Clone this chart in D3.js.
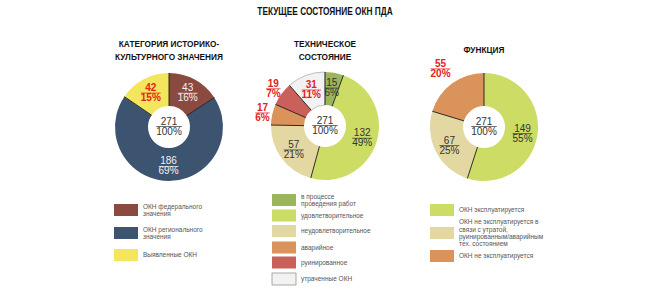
<!DOCTYPE html>
<html lang="ru">
<head>
<meta charset="UTF-8">
<title>Текущее состояние ОКН ПДА</title>
<style>
  body { margin: 0; background: #fff; }
  svg text { font-family: "Liberation Sans Narrow", "Arial Narrow", "Liberation Sans", sans-serif; }
  .title { font-weight: bold; font-size: 10px; fill: #111; }
  .ctitle { font-weight: bold; font-size: 9.5px; fill: #111; }
  .val { font-size: 10px; }
  .leg { font-size: 6.5px; fill: #555; }
</style>
</head>
<body>
<div id="chart"></div>
<script src="https://cdnjs.cloudflare.com/ajax/libs/d3/7.8.5/d3.min.js"></script>
<script>
// --- data ---
const total = 271;

const catLabels = ["ОКН федерального значения", "ОКН регионального значения", "Выявленные ОКН"];
const catValues = [43, 186, 42];
const catPercents = ["16%", "69%", "15%"];

const techLabels = ["в процессе проведения работ", "удовлетворительное", "неудовлетворительное", "аварийное", "руинированное", "утраченные ОКН"];
const techValues = [15, 132, 57, 17, 19, 31];
const techPercents = ["6%", "49%", "21%", "6%", "7%", "11%"];

const funcLabels = ["ОКН эксплуатируется", "ОКН не эксплуатируется в связи с утратой, руинированным/аварийным тех. состоянием", "ОКН не эксплуатируется"];
const funcValues = [149, 67, 55];
const funcPercents = ["55%", "25%", "20%"];

// --- drawing setup ---
const width = 650, height = 295;
const rOuter = 54, rInner = 21;
const red = "#e3221b";

const svg = d3.select("#chart").append("svg")
  .attr("width", width)
  .attr("height", height);

// titles are drawn narrow like the original condensed face
svg.append("text").attr("class", "title")
  .attr("transform", "translate(325,15) scale(0.83,1)")
  .attr("text-anchor", "middle")
  .text("ТЕКУЩЕЕ СОСТОЯНИЕ ОКН ПДА");

const charts = [
  {
    cx: 169, cy: 127,
    title: ["КАТЕГОРИЯ ИСТОРИКО-", "КУЛЬТУРНОГО ЗНАЧЕНИЯ"], titleY: 47,
    values: catValues, percents: catPercents, labels: catLabels,
    colors: ["#8a4a3f", "#3d5471", "#f3e55c"],
    textColors: ["#f2f2f2", "#f2f2f2", red],
    outside: [0, 0, 0],
    legend: { x: 114, ys: [210, 233, 255], lines: [["ОКН федерального", "значения"], ["ОКН регионального", "значения"], ["Выявленные ОКН"]] }
  },
  {
    cx: 325, cy: 126,
    title: ["ТЕХНИЧЕСКОЕ", "СОСТОЯНИЕ"], titleY: 47,
    values: techValues, percents: techPercents, labels: techLabels,
    colors: ["#9bb55a", "#cddc65", "#e3d7a2", "#da935b", "#c9605a", "#f2f2f2"],
    textColors: ["#333", "#333", "#333", red, red, red],
    outside: [0, 0, 0, 64, 64, 0],
    legend: { x: 272, ys: [200, 215.5, 231, 247.5, 262.5, 279], lines: [["в процессе", "проведения работ"], ["удовлетворительное"], ["неудовлетворительное"], ["аварийное"], ["руинированное"], ["утраченные ОКН"]] }
  },
  {
    cx: 484, cy: 127,
    title: ["ФУНКЦИЯ"], titleY: 53,
    values: funcValues, percents: funcPercents, labels: funcLabels,
    colors: ["#cddc65", "#e3d7a2", "#da935b"],
    textColors: ["#333", "#333", red],
    outside: [0, 0, 73],
    legend: { x: 430, ys: [210, 233, 256], lines: [["ОКН эксплуатируется"], ["ОКН не эксплуатируется в", "связи с утратой,", "руинированным/аварийным", "тех. состоянием"], ["ОКН не эксплуатируется"]] }
  }
];

const pie = d3.pie().sort(null).value(d => d);
const arc = d3.arc().innerRadius(rInner).outerRadius(rOuter);

function addLabel(g, x, y, top, bottom, color, bold) {
  const lg = g.append("g").attr("transform", `translate(${x},${y})`);
  const t1 = lg.append("text").attr("class", "val")
    .attr("y", -1.5).attr("text-anchor", "middle")
    .attr("fill", color).attr("font-weight", bold ? "bold" : "normal")
    .text(top);
  const t2 = lg.append("text").attr("class", "val")
    .attr("y", 8.5).attr("text-anchor", "middle")
    .attr("fill", color).attr("font-weight", bold ? "bold" : "normal")
    .text(bottom);
  const w = Math.max(t1.node().getComputedTextLength(), t2.node().getComputedTextLength());
  lg.append("line")
    .attr("x1", -w / 2).attr("x2", w / 2)
    .attr("y1", 0.5).attr("y2", 0.5)
    .attr("stroke", color).attr("stroke-width", 0.7);
}

charts.forEach(c => {
  // chart title
  c.title.forEach((line, i) => {
    svg.append("text").attr("class", "ctitle")
      .attr("transform", `translate(${c.cx},${c.titleY + i * 12.5}) scale(0.87,1)`)
      .attr("text-anchor", "middle")
      .text(line);
  });

  const g = svg.append("g").attr("transform", `translate(${c.cx},${c.cy})`);
  const arcs = pie(c.values);

  g.selectAll("path.slice")
    .data(arcs)
    .enter().append("path")
    .attr("class", "slice")
    .attr("d", arc)
    .attr("fill", (d, i) => c.colors[i])
    .attr("stroke", (d, i) => c.colors[i] === "#f2f2f2" ? "#999" : "none")
    .attr("stroke-width", 0.6);

  // dark separators between slices
  g.selectAll("line.sep")
    .data(arcs)
    .enter().append("line")
    .attr("class", "sep")
    .attr("x1", d => Math.sin(d.startAngle) * rInner)
    .attr("y1", d => -Math.cos(d.startAngle) * rInner)
    .attr("x2", d => Math.sin(d.startAngle) * rOuter)
    .attr("y2", d => -Math.cos(d.startAngle) * rOuter)
    .attr("stroke", "#1a1a1a")
    .attr("stroke-width", 0.9);

  // slice labels
  arcs.forEach((d, i) => {
    const mid = (d.startAngle + d.endAngle) / 2;
    const r = c.outside[i] || 39;
    const x = Math.sin(mid) * r, y = -Math.cos(mid) * r;
    const isRed = c.textColors[i] === red;
    addLabel(g, x, y, String(c.values[i]), c.percents[i], c.textColors[i], isRed);
  });

  // centre total
  addLabel(g, 0, -1, String(total), "100%", "#333", false);

  // legend
  c.legend.ys.forEach((yc, i) => {
    svg.append("rect")
      .attr("x", c.legend.x).attr("y", yc - 6)
      .attr("width", 24).attr("height", 12)
      .attr("fill", c.colors[i])
      .attr("stroke", c.colors[i] === "#f2f2f2" ? "#888" : "none")
      .attr("stroke-width", 0.7);
    const lines = c.legend.lines[i];
    const lh = 7.3;
    lines.forEach((ln, j) => {
      svg.append("text").attr("class", "leg")
        .attr("x", c.legend.x + 29)
        .attr("y", yc + 2.3 + (j - (lines.length - 1) / 2) * lh)
        .text(ln);
    });
  });
});
</script>
</body>
</html>
